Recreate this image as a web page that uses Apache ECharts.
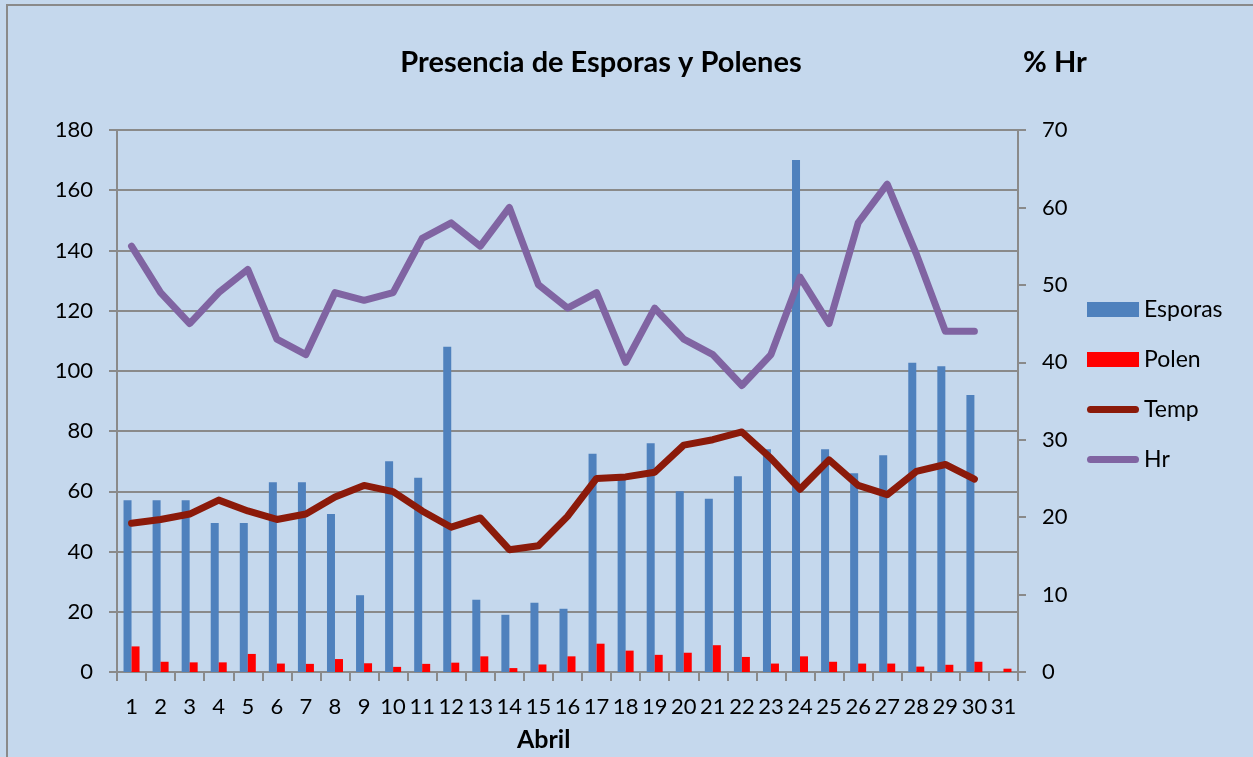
<!DOCTYPE html>
<html>
<head>
<meta charset="utf-8">
<script src="https://cdn.jsdelivr.net/npm/echarts@6/dist/echarts.min.js"></script>
<style>html,body{margin:0;padding:0;background:#C5D8ED;}#c{width:1253px;height:757px;}</style>
</head>
<body>
<div id="c"></div>
<script>
const days = ['1','2','3','4','5','6','7','8','9','10','11','12','13','14','15','16','17','18','19','20','21','22','23','24','25','26','27','28','29','30','31'];
const esporas = [57,57,57,49.5,49.5,63,63,52.5,25.5,70,64.5,108,24,19,23,21,72.5,64,76,60,57.5,65,74,170,74,66,72,102.7,101.5,92,null];
const polen = [8.5,3.4,3.2,3.2,6,2.8,2.7,4.3,2.9,1.7,2.7,3.1,5.2,1.3,2.5,5.2,9.4,7.1,5.7,6.4,8.9,5,2.8,5.2,3.4,2.8,2.8,1.8,2.4,3.4,1.1];
const temp = [19.2,19.7,20.4,22.2,20.8,19.7,20.4,22.6,24.1,23.3,20.8,18.7,19.9,15.8,16.3,20.1,25,25.2,25.8,29.3,30,31,27.6,23.6,27.4,24.1,22.9,25.9,26.8,24.9,null];
const hr = [55,49,45,49,52,43,41,49,48,49,56,58,55,60,50,47,49,40,47,43,41,37,41,51,45,58,63,54,44,44,null];
const leftTicks = {min:0,max:180,interval:20};
const rightTicks = {min:0,max:70,interval:10};

const FONT = 'Lato';
const gridColor = '#8a8a8a';
const lineIcon = 'path://M3.5,0 H48.5 A3.5,3.5 0 0 1 48.5,7 H3.5 A3.5,3.5 0 0 1 3.5,0 Z';
const chart = echarts.init(document.getElementById('c'));
chart.setOption({
  backgroundColor: '#C5D8ED',
  animation: false,
  textStyle: {fontFamily: FONT},
  graphic: [{
    type: 'rect', shape: {x: 7, y: 5, width: 1300, height: 800},
    style: {fill: 'none', stroke: '#8a8a8a', lineWidth: 2}, silent: true
  },{
    type: 'text', left: 517, top: 727,
    style: {text: 'Abril', fontFamily: FONT, fontWeight: 'bold', fontSize: 25, fill: '#000'}
  }],
  title: [{
    text: 'Presencia de Esporas y Polenes', left: 596, top: 43, textAlign: 'center',
    textStyle: {fontFamily: FONT, fontWeight: 'bold', fontSize: 29, color: '#000'}
  },{
    text: '% Hr', left: 1050, top: 43, textAlign: 'center',
    textStyle: {fontFamily: FONT, fontWeight: 'bold', fontSize: 29, color: '#000'}
  }],
  legend: {
    orient: 'vertical', left: 1087, top: 298, padding: 0, itemWidth: 52, itemHeight: 15, itemGap: 27,
    textStyle: {fontFamily: FONT, fontSize: 23, color: '#000'},
    data: [
      {name: 'Esporas', icon: 'rect'},
      {name: 'Polen', icon: 'rect'},
      {name: 'Temp', icon: lineIcon},
      {name: 'Hr', icon: lineIcon}
    ]
  },
  grid: {left: 117, right: 235, top: 130, bottom: 85, containLabel: false},
  xAxis: {
    type: 'category', data: days, boundaryGap: true,
    axisLine: {lineStyle: {color: gridColor, width: 2}},
    axisTick: {show: true, length: 9, inside: false, alignWithLabel: false, lineStyle: {color: gridColor, width: 2}},
    axisLabel: {fontFamily: FONT, fontSize: 22, color: '#000', margin: 24, interval: 0}
  },
  yAxis: [{
    type: 'value', min: leftTicks.min, max: leftTicks.max, interval: leftTicks.interval,
    axisLine: {show: true, lineStyle: {color: gridColor, width: 2}},
    axisTick: {show: true, length: 8, lineStyle: {color: gridColor, width: 2}},
    axisLabel: {fontFamily: FONT, fontSize: 22, color: '#000', margin: 24},
    splitLine: {show: true, lineStyle: {color: gridColor, width: 2}}
  },{
    type: 'value', min: rightTicks.min, max: rightTicks.max, interval: rightTicks.interval,
    position: 'right',
    axisLine: {show: true, lineStyle: {color: gridColor, width: 2}},
    axisTick: {show: true, length: 8, lineStyle: {color: gridColor, width: 2}},
    axisLabel: {fontFamily: FONT, fontSize: 22, color: '#000', margin: 24},
    splitLine: {show: false}
  }],
  series: [{
    name: 'Esporas', type: 'bar', yAxisIndex: 0, data: esporas,
    barWidth: 8, barGap: '0%', itemStyle: {color: '#4F81BD'}
  },{
    name: 'Polen', type: 'bar', yAxisIndex: 0, data: polen,
    barWidth: 8, barGap: '0%', itemStyle: {color: '#FF0000'}
  },{
    name: 'Temp', type: 'line', yAxisIndex: 1, data: temp, symbol: 'none',
    lineStyle: {color: '#8B1A0A', width: 7, cap: 'round', join: 'round'},
    itemStyle: {color: '#8B1A0A'}
  },{
    name: 'Hr', type: 'line', yAxisIndex: 1, data: hr, symbol: 'none',
    lineStyle: {color: '#8064A2', width: 7, cap: 'round', join: 'round'},
    itemStyle: {color: '#8064A2'}
  }]
});
</script>
</body>
</html>
